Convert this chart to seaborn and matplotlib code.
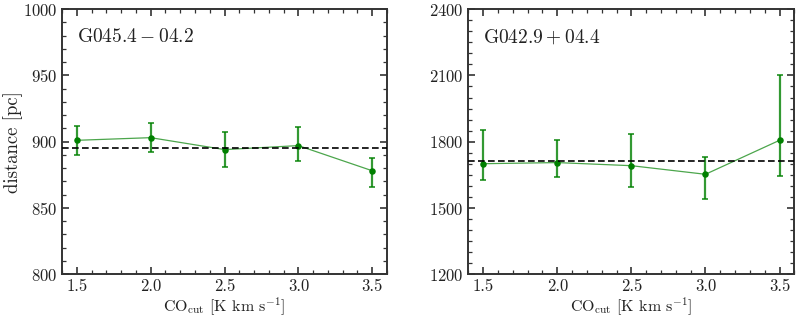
import numpy as np
import pandas as pd
import matplotlib
matplotlib.use("Agg")
import matplotlib.pyplot as plt
import seaborn as sns
from matplotlib.ticker import MultipleLocator, FormatStrFormatter

# CO cut thresholds (K km/s)
co_cut = [1.5, 2.0, 2.5, 3.0, 3.5]

names = [r"$\mathrm{G045.4-04.2}$", r"$\mathrm{G042.9+04.4}$"]

# G045.4-04.2
dist_a = [901, 903, 894, 897, 878]
lo_a = [890, 892, 881, 885, 866]
hi_a = [912, 914, 907, 911, 888]
ref_a = 895

# G042.9+04.4
dist_b = [1700, 1705, 1691, 1652, 1806]
lo_b = [1628, 1639, 1594, 1541, 1644]
hi_b = [1852, 1808, 1833, 1732, 2103]
ref_b = 1711

ylims = [(800, 1000), (1200, 2400)]
ymajor = [50, 300]
yminor = [10, 50]

sns.set_theme(style="ticks")
plt.rcParams["font.family"] = ["cmr10", "DejaVu Serif"]
plt.rcParams["mathtext.fontset"] = "cm"
plt.rcParams["axes.formatter.use_mathtext"] = True
plt.rcParams["axes.unicode_minus"] = False

fig = plt.figure(figsize=(7.98, 3.19), dpi=100)
ax1 = fig.add_axes([0.0777, 0.141, 0.4073, 0.830])
ax2 = fig.add_axes([0.587, 0.141, 0.4084, 0.830])

panels = [
    (ax1, dist_a, lo_a, hi_a, ref_a),
    (ax2, dist_b, lo_b, hi_b, ref_b),
]

for i, (ax, d, lo, hi, ref) in enumerate(panels):
    df = pd.DataFrame({"co": co_cut, "dist": d})
    yerr = [np.array(d) - np.array(lo), np.array(hi) - np.array(d)]
    ax.errorbar(df["co"], df["dist"], yerr=yerr, fmt="none", ecolor="green",
                elinewidth=1.6, capsize=2.5, capthick=1.3, alpha=0.8, zorder=3)
    sns.lineplot(data=df, x="co", y="dist", ax=ax, color="green", lw=0.9,
                 alpha=0.7, zorder=2)
    sns.scatterplot(data=df, x="co", y="dist", ax=ax, color="green", s=22,
                    edgecolor="green", linewidth=0, zorder=4)
    ax.axhline(ref, color="black", ls="--", lw=1.2, dashes=(4, 2), zorder=5)

    ax.set_xlim(1.4, 3.6)
    ax.set_ylim(*ylims[i])
    ax.xaxis.set_major_locator(MultipleLocator(0.5))
    ax.xaxis.set_minor_locator(MultipleLocator(0.1))
    ax.yaxis.set_major_locator(MultipleLocator(ymajor[i]))
    ax.yaxis.set_minor_locator(MultipleLocator(yminor[i]))
    ax.xaxis.set_major_formatter(FormatStrFormatter("%.1f"))
    ax.tick_params(which="both", direction="in", top=True, right=True,
                   labelsize=12, colors="#333333", labelcolor="#222222")
    ax.tick_params(which="major", length=5, width=1.2)
    ax.tick_params(which="minor", length=3, width=0.9)
    for sp in ax.spines.values():
        sp.set_linewidth(1.4)
        sp.set_color("#333333")

    ax.set_xlabel(r"CO$_{\rm cut}$ [K km s$^{-1}$]", fontsize=11.5,
                  color="#222222", labelpad=1)
    ax.set_ylabel("")
    ax.text(0.045, 0.895, names[i], transform=ax.transAxes, fontsize=14,
            va="center", ha="left", color="#222222")

ax1.set_ylabel("distance [pc]", fontsize=13.5, color="#222222")
ax1.yaxis.set_label_coords(-0.12, 0.5)

fig.savefig("out.png", dpi=100)
